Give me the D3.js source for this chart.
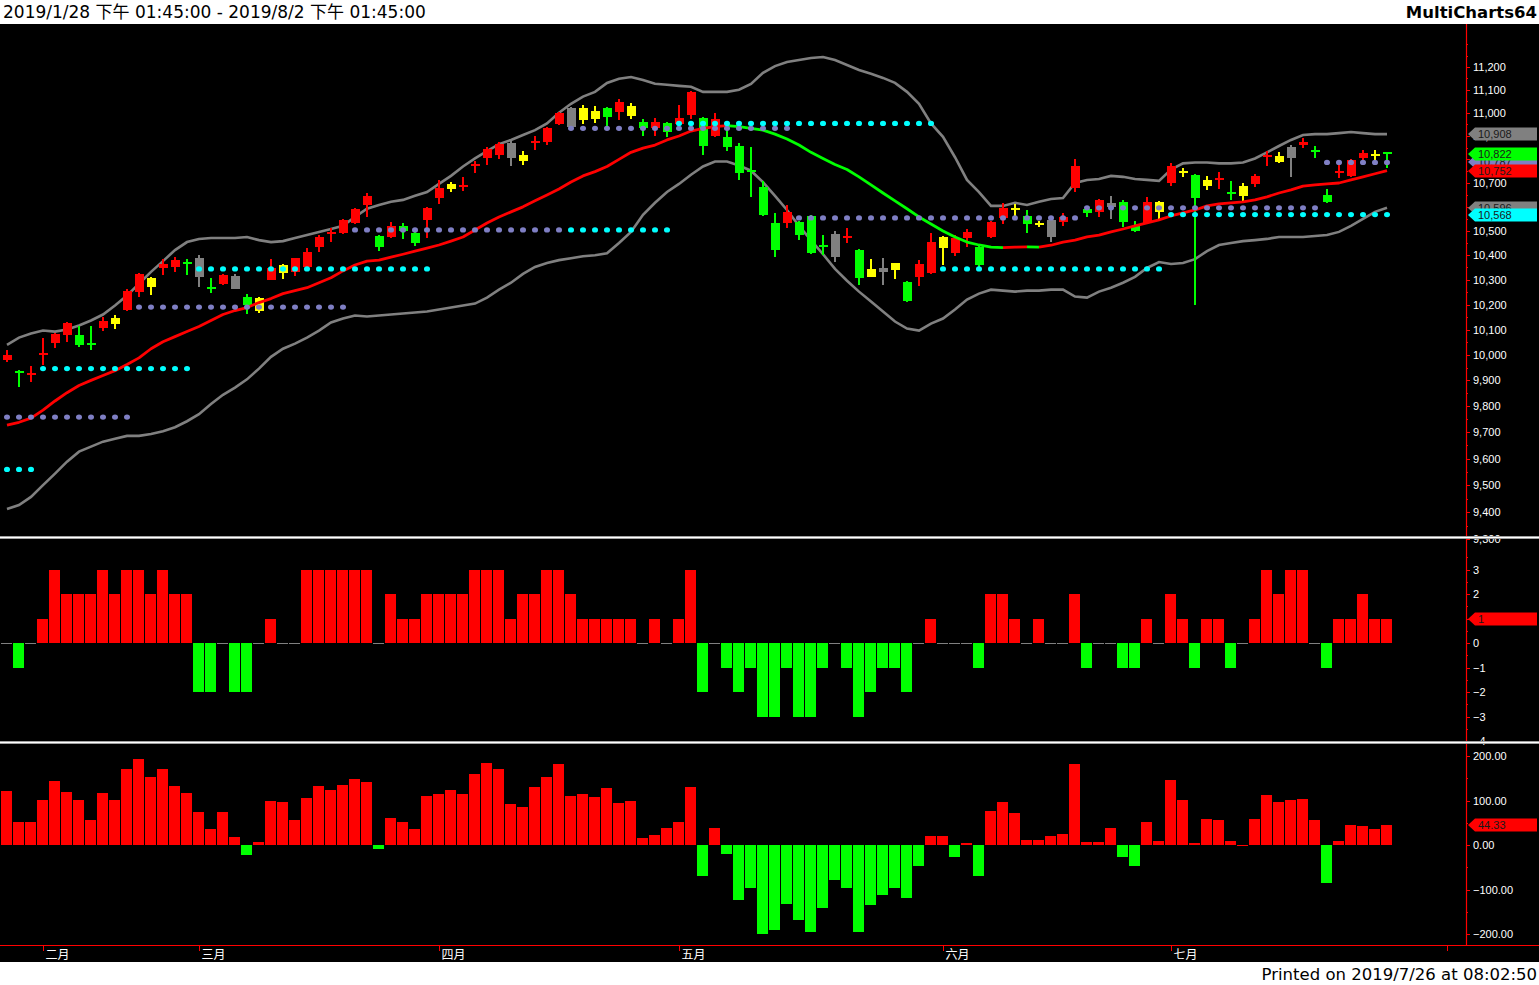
<!DOCTYPE html>
<html><head><meta charset="utf-8">
<script src="https://cdn.jsdelivr.net/npm/d3@7"></script>
<style>
html,body{margin:0;padding:0;background:#fff;overflow:hidden}
svg{display:block}
</style></head><body>
<svg id="c" width="1539" height="985"></svg>
<script>
// ---------------- DATA ----------------
const openP = [9981,9937,9921,10000,10048,10080,10080,10046,10108,10124,
10180,10252,10272,10346,10352,10370,10388,10272,10284,10316,
10232,10176,10300,10326,10332,10352,10433,10490,10492,10533,
10608,10479,10475,10521,10492,10546,10637,10673,10685,10772,
10804,10817,10870,10793,10872,10874,10950,11022,10967,10975,
11022,11004,10988,10962,10933,10954,10950,10992,10979,10900,
10896,10857,10756,10683,10533,10533,10537,10562,10440,10487,
10473,10421,10312,10348,10340,10292,10312,10328,10429,10408,
10471,10433,10475,10554,10590,10562,10527,10546,10537,10679,
10592,10579,10617,10621,10521,10533,10577,10700,10746,10735,
10689,10715,10660,10646,10696,10811,10787,10852,10861,10837,
10650,10746,10730,10804,10816,10830];
const highP = [10020,9940,9958,10068,10088,10132,10116,10116,10152,10160,
10264,10328,10310,10384,10392,10384,10400,10308,10324,10322,
10244,10232,10384,10366,10390,10429,10483,10512,10550,10596,
10658,10483,10537,10533,10496,10600,10713,10704,10726,10791,
10852,10874,10878,10835,10900,10937,11004,11026,11035,11030,
11026,11061,11043,10975,10979,10962,11035,11096,10983,11000,
10942,10870,10852,10709,10575,10608,10541,10566,10483,10500,
10512,10425,10384,10388,10370,10296,10380,10492,10479,10483,
10508,10437,10541,10617,10612,10587,10541,10550,10575,10800,
10600,10633,10646,10629,10541,10642,10625,10783,10765,10739,
10730,10748,10709,10700,10739,10835,10830,10861,10891,10857,
10675,10774,10800,10839,10839,10830];
const lowP = [9973,9876,9892,9962,10028,10052,10032,10020,10096,10104,
10176,10232,10240,10320,10332,10320,10272,10248,10280,10262,
10164,10168,10298,10304,10316,10350,10412,10454,10488,10530,
10558,10417,10471,10467,10437,10471,10612,10662,10666,10743,
10778,10800,10770,10778,10839,10861,10946,10933,10950,10954,
10942,10967,10975,10900,10900,10896,10946,10971,10817,10896,
10835,10713,10642,10560,10392,10512,10462,10404,10400,10372,
10450,10280,10310,10280,10304,10212,10276,10324,10360,10396,
10433,10348,10471,10529,10562,10492,10516,10454,10521,10662,
10558,10558,10550,10516,10496,10529,10546,10687,10726,10200,
10671,10675,10629,10625,10683,10770,10785,10726,10848,10804,
10617,10722,10726,10796,10796,10765];
const closeP = [10000,9932,9925,10008,10084,10128,10040,10042,10136,10146,
10256,10324,10306,10366,10380,10366,10312,10262,10320,10264,
10200,10226,10348,10362,10388,10412,10475,10494,10546,10592,
10646,10433,10521,10500,10450,10596,10679,10694,10689,10776,
10843,10865,10804,10820,10876,10933,11000,10937,11022,11009,
10983,11048,11030,10933,10958,10917,10979,11091,10857,10971,
10852,10743,10745,10567,10421,10579,10483,10408,10435,10392,
10477,10308,10344,10330,10368,10216,10364,10454,10475,10471,
10496,10360,10537,10596,10594,10529,10531,10475,10558,10770,
10575,10629,10600,10537,10500,10621,10621,10770,10750,10637,
10711,10719,10656,10687,10730,10815,10813,10804,10874,10833,
10621,10750,10796,10826,10820,10822];
// candle colour class: r red, g green, y yellow, k gray
const candleClass = ("rgrrrrggry"+"rryrrgkgrk"+"gyryrrrrrr"+"rgrggrryrr"+"rrkyrrrkyy"+
  "grygrgrrgr"+"gggggrgggk"+"rgykygrryr"+"rgrrygykrr"+"grkggryryg"+"yrgyrrykrg"+"grrryg").split("");
const maLine = [9727,9738,9754,9785,9820,9852,9880,9900,9919,9938,
9962,9988,10024,10052,10072,10092,10112,10136,10160,10176,
10188,10208,10224,10244,10256,10268,10288,10308,10336,10360,
10376,10380,10392,10404,10417,10429,10442,10458,10475,10504,
10533,10558,10579,10600,10625,10650,10675,10704,10730,10748,
10770,10800,10830,10848,10861,10883,10900,10921,10933,10940,
10944,10940,10933,10925,10908,10887,10861,10830,10804,10778,
10757,10726,10692,10658,10625,10592,10558,10529,10500,10475,
10454,10442,10433,10431,10433,10434,10433,10441,10454,10462,
10475,10483,10496,10508,10521,10533,10546,10562,10575,10587,
10604,10612,10617,10621,10629,10642,10658,10671,10687,10692,
10696,10700,10713,10726,10739,10752];
const upperBand = [10039,10068,10084,10096,10092,10100,10116,10136,10160,10196,
10236,10284,10332,10376,10421,10454,10467,10471,10471,10471,
10475,10462,10454,10458,10471,10483,10496,10508,10521,10558,
10592,10608,10621,10629,10646,10662,10696,10730,10770,10804,
10835,10865,10883,10904,10925,10954,11000,11039,11070,11091,
11130,11148,11156,11143,11126,11122,11117,11113,11091,11091,
11091,11100,11126,11174,11204,11222,11231,11240,11244,11231,
11209,11187,11170,11152,11130,11091,11039,10954,10896,10809,
10713,10662,10604,10604,10617,10608,10621,10633,10637,10700,
10713,10717,10730,10726,10717,10713,10709,10757,10783,10787,
10787,10783,10783,10787,10804,10830,10857,10883,10904,10908,
10908,10912,10917,10912,10908,10908];
const lowerBand = [9411,9426,9456,9500,9543,9588,9626,9645,9664,9675,
9686,9686,9693,9704,9719,9742,9769,9808,9844,9872,
9904,9946,9992,10024,10044,10068,10096,10128,10144,10156,
10152,10156,10160,10164,10168,10172,10180,10188,10196,10204,
10228,10260,10288,10324,10352,10368,10380,10388,10396,10400,
10408,10450,10496,10567,10617,10662,10696,10735,10770,10791,
10791,10774,10752,10704,10646,10587,10521,10462,10404,10344,
10296,10252,10212,10172,10132,10104,10096,10124,10144,10180,
10220,10244,10260,10256,10252,10256,10256,10260,10260,10232,
10228,10252,10268,10288,10312,10348,10372,10364,10368,10384,
10417,10442,10450,10458,10462,10467,10475,10475,10475,10479,
10483,10496,10521,10550,10579,10596];
// dotted levels: [first bar, last bar, price, kind]
const levelStart = [0,0,3,11,16,29,47,47,56,66,78,90,97,110];
const levelEnd   = [2,10,15,28,35,46,55,65,77,89,96,109,115,115];
const levelValue = [9559,9758,9946,10190,10344,10504,10504,10933,10954,10554,10344,10596,10568,10787];
const levelKind  = ["c","s","c","s","c","s","c","s","c","s","c","s","c","s"];
// panel 1 (integer score)
const scoreVals = [0,-1,0,1,3,2,2,2,3,2,
3,3,2,3,2,2,-2,-2,0,-2,
-2,0,1,0,0,3,3,3,3,3,
3,0,2,1,1,2,2,2,2,3,
3,3,1,2,2,3,3,2,1,1,
1,1,1,0,1,0,1,3,-2,0,
-1,-2,-1,-3,-3,-1,-3,-3,-1,0,
-1,-3,-2,-1,-1,-2,0,1,0,0,
0,-1,2,2,1,0,1,0,0,2,
-1,0,0,-1,-1,1,0,2,1,-1,
1,1,-1,0,1,3,2,3,3,0,
-1,1,1,2,1,1];
// panel 3 (oscillator)
const oscVals = [121,52,52,101,144,119,101,56,117,101,
171,193,153,171,133,117,74,36,74,18,
-22,7,99,97,56,106,133,124,135,148,
142,-9,61,52,36,110,115,124,115,160,
184,171,92,85,130,153,182,110,115,108,
128,94,99,16,22,38,52,130,-70,38,
-20,-124,-97,-200,-191,-133,-169,-196,-142,-79,
-97,-196,-135,-112,-97,-119,-47,20,20,-27,
4,-70,76,97,72,11,11,20,25,182,
7,7,38,-27,-47,52,9,146,101,4,
58,56,9,0,58,112,97,101,103,56,
-85,9,45,43,36,44.33];
// axis ticks
const mainTicks = [9300,9400,9500,9600,9700,9800,9900,10000,10100,10200,10300,10400,10500,10600,10700,10800,10900,11000,11100,11200];
const mainMinor = [9350,9450,9550,9650,9750,9850,9950,10050,10150,10250,10350,10450,10550,10650,10750,10850,10950,11050,11150,11250,11300];
const p1Ticks = [-4,-3,-2,-1,0,1,2,3];
const p1Minor = [-3.5,-2.5,-1.5,-0.5,0.5,1.5,2.5,3.5];
const p3Ticks = [-200,-100,0,100,200];
const p3Minor = [-150,-50,50,150];
const monthLabels = ["二月","三月","四月","五月","六月","七月",""];
const monthBars = [3,16,36,56,78,97,120];
const headerLeft = "2019/1/28 下午 01:45:00 - 2019/8/2 下午 01:45:00";
const headerRight = "MultiCharts64";
const footerText = "Printed on 2019/7/26 at 08:02:50";

// ---------------- DRAW ----------------
const W = 1539, H = 985, AX = 1466;
const svg = d3.select("#c");
const FONT = "'Liberation Sans', Arial, 'Noto Sans CJK TC', sans-serif";
const HFONT = "'DejaVu Sans', 'Noto Sans CJK TC', sans-serif";
const col = {r:"#ff0000", g:"#00ff00", y:"#ffff00", k:"#808080", c:"#00ffff", s:"#7f7fc4"};

svg.append("rect").attr("width", W).attr("height", H).attr("fill", "#fff");
svg.append("rect").attr("x", 0).attr("y", 24).attr("width", W).attr("height", 938).attr("fill", "#000");

const n = closeP.length;
const x = d3.scaleLinear().domain([0, 1]).range([7, 19]);
const yMain = d3.scaleLog().domain([9400, 11200]).range([512, 67]);
const yP1 = d3.scaleLinear().domain([-3, 3]).range([716.5, 569.5]);
const yP3 = d3.scaleLinear().domain([-200, 200]).range([934, 756]);

const defs = svg.append("defs");
function clip(id, y0, y1) {
  defs.append("clipPath").attr("id", id).append("rect").attr("x", 0).attr("y", y0).attr("width", AX).attr("height", y1 - y0);
}
clip("cm", 24, 535); clip("c1", 539, 741); clip("c3", 744, 945);

// main panel
const gm = svg.append("g").attr("clip-path", "url(#cm)");
const lineGen = d3.line().x((d, i) => x(i)).y(d => yMain(d));
gm.append("path").attr("d", lineGen(upperBand)).attr("fill", "none").attr("stroke", "#808080").attr("stroke-width", 2.6);
gm.append("path").attr("d", lineGen(lowerBand)).attr("fill", "none").attr("stroke", "#808080").attr("stroke-width", 2.6);

// candles
const idx = d3.range(n);
const cg = gm.append("g").attr("shape-rendering", "crispEdges");
cg.selectAll("rect.w").data(idx).join("rect").attr("class", "w")
  .attr("x", i => Math.round(x(i)) - 1).attr("width", 2)
  .attr("y", i => yMain(highP[i])).attr("height", i => Math.max(1, yMain(lowP[i]) - yMain(highP[i])))
  .attr("fill", i => col[candleClass[i]]);
cg.selectAll("rect.b").data(idx).join("rect").attr("class", "b")
  .attr("x", i => Math.round(x(i)) - 4.5).attr("width", 9)
  .attr("y", i => {
    const t = yMain(Math.max(openP[i], closeP[i])), b = yMain(Math.min(openP[i], closeP[i]));
    return (b - t < 2) ? (t + b) / 2 - 1 : t;
  })
  .attr("height", i => Math.max(2, yMain(Math.min(openP[i], closeP[i])) - yMain(Math.max(openP[i], closeP[i]))))
  .attr("fill", i => col[candleClass[i]]);

// moving average, coloured by direction
const segs = [];
for (let i = 1; i < n; i++) {
  const c = maLine[i] >= maLine[i - 1] ? "r" : "g";
  if (segs.length && segs[segs.length - 1].c === c) segs[segs.length - 1].pts.push(i);
  else segs.push({c, pts: [i - 1, i]});
}
segs.forEach(s => {
  gm.append("path").attr("d", d3.line().x(i => x(i)).y(i => yMain(maLine[i]))(s.pts))
    .attr("fill", "none").attr("stroke", col[s.c]).attr("stroke-width", 2.8).attr("stroke-linejoin", "round");
});

// dotted levels
levelStart.forEach((s, k) => {
  const bars = d3.range(s, levelEnd[k] + 1);
  gm.selectAll(null).data(bars).join("ellipse")
    .attr("cx", i => x(i)).attr("cy", yMain(levelValue[k])).attr("rx", 3).attr("ry", 2.6)
    .attr("fill", col[levelKind[k]]);
});

// panel 1
const g1 = svg.append("g").attr("clip-path", "url(#c1)").attr("shape-rendering", "crispEdges");
g1.selectAll("rect").data(idx).join("rect")
  .attr("x", i => Math.round(x(i)) - 6).attr("width", 11)
  .attr("y", i => scoreVals[i] === 0 ? yP1(0) : yP1(Math.max(0, scoreVals[i])))
  .attr("height", i => scoreVals[i] === 0 ? 1 : Math.abs(yP1(scoreVals[i]) - yP1(0)))
  .attr("fill", i => scoreVals[i] > 0 ? col.r : scoreVals[i] < 0 ? col.g : "#808080");

// panel 3
const g3 = svg.append("g").attr("clip-path", "url(#c3)").attr("shape-rendering", "crispEdges");
g3.selectAll("rect").data(idx).join("rect")
  .attr("x", i => Math.round(x(i)) - 6).attr("width", 11)
  .attr("y", i => yP3(Math.max(0, oscVals[i])))
  .attr("height", i => Math.max(1, Math.abs(yP3(oscVals[i]) - yP3(0))))
  .attr("fill", i => oscVals[i] >= 0 ? col.r : col.g);

// axes
function styleAxis(g) {
  g.selectAll("path.domain").remove();
  g.selectAll("line").attr("stroke", "#ff0000").attr("stroke-width", 1).attr("shape-rendering", "crispEdges");
  g.selectAll("text").attr("fill", "#ffffff").attr("font-family", FONT).attr("font-size", 11).attr("x", 7);
}
const ga = svg.append("g");
function addAxis(scale, ticks, minor, fmt) {
  const gg = ga.append("g").attr("transform", `translate(${AX},0)`);
  gg.call(d3.axisRight(scale).tickValues(ticks).tickFormat(fmt).tickSize(4));
  styleAxis(gg);
  const gn = ga.append("g").attr("transform", `translate(${AX},0)`);
  gn.call(d3.axisRight(scale).tickValues(minor).tickFormat("").tickSize(2));
  styleAxis(gn);
}
addAxis(yMain, mainTicks, mainMinor, d3.format(","));
addAxis(yP1, p1Ticks, p1Minor, d3.format("d"));
addAxis(yP3, p3Ticks, p3Minor, d3.format(".2f"));
ga.append("line").attr("x1", AX + 0.5).attr("x2", AX + 0.5).attr("y1", 24).attr("y2", 946).attr("stroke", "#ff0000").attr("stroke-width", 1.2);

// right-side value markers
function marker(v, scale, fill, txt) {
  const cy = Math.round(scale(v));
  const g = svg.append("g");
  g.append("path").attr("d", `M${AX + 2},${cy} L${AX + 9},${cy - 6.5} L1537,${cy - 6.5} L1537,${cy + 6.5} L${AX + 9},${cy + 6.5} Z`).attr("fill", fill);
  g.append("text").attr("x", AX + 12).attr("y", cy + 4).attr("font-family", FONT).attr("font-size", 11).attr("fill", "#1a1a1a").text(txt);
}
const last = n - 1;
const f0 = d3.format(",.0f");
marker(upperBand[last], yMain, "#808080", f0(upperBand[last]));
marker(levelValue[13], yMain, col.s, f0(levelValue[13]));
marker(closeP[last], yMain, col.g, f0(closeP[last]));
marker(maLine[last], yMain, col.r, f0(maLine[last]));
marker(lowerBand[last], yMain, "#808080", f0(lowerBand[last]));
marker(levelValue[12], yMain, col.c, f0(levelValue[12]));
marker(scoreVals[last], yP1, col.r, d3.format("d")(scoreVals[last]));
marker(oscVals[last], yP3, col.r, d3.format(".2f")(oscVals[last]));

// separators
[536, 741].forEach(y => {
  svg.append("rect").attr("x", 0).attr("y", y).attr("width", W).attr("height", 3).attr("fill", "#a0a0a0");
  svg.append("rect").attr("x", 0).attr("y", y + 1).attr("width", W).attr("height", 1).attr("fill", "#ffffff");
});

// x axis (months)
const gx = svg.append("g").attr("transform", "translate(0,945)");
gx.call(d3.axisBottom(x).tickValues(monthBars).tickFormat((d, i) => monthLabels[i]).tickSize(6).tickSizeOuter(0));
gx.select("path.domain").attr("stroke", "#ff0000").attr("d", `M0,0.5H${W}`);
gx.selectAll("line").attr("stroke", "#ff0000").attr("shape-rendering", "crispEdges");
gx.selectAll("text").attr("fill", "#fff").attr("font-family", "'Noto Sans CJK TC', sans-serif").attr("font-size", 12)
  .attr("text-anchor", "start").attr("x", 2).attr("y", 5).attr("dy", "0.75em");

// header/footer
svg.append("text").attr("x", 3).attr("y", 18).attr("font-family", HFONT).attr("font-size", 17).attr("fill", "#000").text(headerLeft);
svg.append("text").attr("x", 1537).attr("y", 18).attr("text-anchor", "end").attr("font-family", HFONT).attr("font-weight", "bold").attr("font-size", 16.5).attr("fill", "#000").text(headerRight);
svg.append("text").attr("x", 1537).attr("y", 980).attr("text-anchor", "end").attr("font-family", HFONT).attr("font-size", 16.5).attr("fill", "#000").text(footerText);
</script>
</body></html>
